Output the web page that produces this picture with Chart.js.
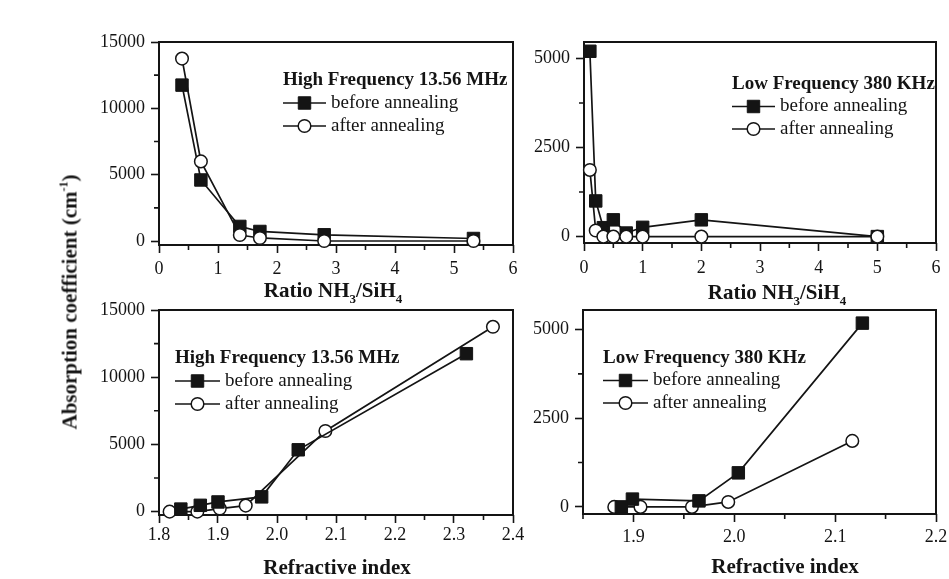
<!DOCTYPE html>
<html>
<head>
<meta charset="utf-8">
<script src="https://cdn.jsdelivr.net/npm/chart.js@4.4.1/dist/chart.umd.min.js"></script>
<style>
  body { margin: 0; background: #fff; }
  #page { position: relative; width: 949px; height: 579px; overflow: hidden;
          font-family: "Liberation Serif", "Times New Roman", serif; color: #141414; }
  .panel { position: absolute; }
  .xtitle { position: absolute; font-weight: bold; font-size: 21px; line-height: 21px;
            white-space: nowrap; transform: translateX(-50%); }
  .sub { font-size: 13px; position: relative; top: 6px; }
  #ytitle { position: absolute; left: 70px; top: 302px; font-weight: bold; font-size: 21px;
            white-space: nowrap; transform: translate(-50%, -50%) rotate(-90deg); }
  .sup { font-size: 12px; position: relative; top: -9px; }
</style>
</head>
<body>
<div id="page">
  <div class="panel" style="left:80px;top:20px;width:455px;height:295px"><canvas id="hfRatioChart"></canvas></div>
  <div class="panel" style="left:520px;top:20px;width:440px;height:295px"><canvas id="lfRatioChart"></canvas></div>
  <div class="panel" style="left:80px;top:290px;width:455px;height:289px"><canvas id="hfIndexChart"></canvas></div>
  <div class="panel" style="left:520px;top:290px;width:440px;height:289px"><canvas id="lfIndexChart"></canvas></div>

  <div id="ytitle">Absorption coefficient (cm<span class="sup">-1</span>)</div>
  <div class="xtitle" style="left:333px;top:280px">Ratio NH<span class="sub">3</span>/SiH<span class="sub">4</span></div>
  <div class="xtitle" style="left:777px;top:282px">Ratio NH<span class="sub">3</span>/SiH<span class="sub">4</span></div>
  <div class="xtitle" style="left:337px;top:557px">Refractive index</div>
  <div class="xtitle" style="left:785px;top:556px">Refractive index</div>
</div>

<script>
// High frequency 13.56 MHz (same samples in both left panels)
const hfRatio = [0.39, 0.71, 1.37, 1.71, 2.8, 5.33];
const hfBefore = [11750, 4600, 1100, 720, 470, 190];
const hfAfter = [13750, 6000, 450, 230, 0, 0];
const hfIndexBefore = [2.321, 2.036, 1.974, 1.900, 1.870, 1.837];
const hfIndexAfter = [2.366, 2.082, 1.947, 1.903, 1.865, 1.818];

// Low frequency 380 KHz vs ratio
const lfRatio = [0.1, 0.2, 0.33, 0.5, 0.72, 1.0, 2.0, 5.0];
const lfBefore = [5200, 1000, 250, 470, 100, 260, 470, 0];
const lfAfter = [1870, 170, 0, 0, 0, 0, 0, 0];

// Low frequency 380 KHz vs refractive index
const lfIndexBefore = [2.127, 2.004, 1.965, 1.899, 1.888];
const lfAbsBefore = [5180, 960, 170, 220, 0];
const lfIndexAfter = [2.117, 1.994, 1.958, 1.907, 1.881];
const lfAbsAfter = [1860, 140, 0, 0, 0];

// tick labels
const ratioTicks = [0, 1, 2, 3, 4, 5, 6];
const hfAbsTicks = [0, 5000, 10000, 15000];
const lfAbsTicks = [0, 2500, 5000];
const hfIndexTicks = [1.8, 1.9, 2.0, 2.1, 2.2, 2.3, 2.4];
const lfIndexTicks = [1.9, 2.0, 2.1, 2.2];

const FONT = '"Liberation Serif", "Times New Roman", serif';
const INK = '#141414';

function series(xs, ys) {
  return xs.map((x, i) => ({ x: x, y: ys[i] }));
}

function beforeSet(data, order) {
  return {
    label: 'before annealing', data: data, order: order, showLine: true, clip: false,
    borderColor: INK, borderWidth: 1.7,
    pointStyle: 'rect', pointRadius: 8.8, pointHoverRadius: 8.8,
    pointBackgroundColor: INK, pointBorderColor: INK, pointBorderWidth: 1,
  };
}

function afterSet(data, order) {
  return {
    label: 'after annealing', data: data, order: order, showLine: true, clip: false,
    borderColor: INK, borderWidth: 1.7,
    pointStyle: 'circle', pointRadius: 6.3, pointHoverRadius: 6.3,
    pointBackgroundColor: '#fff', pointBorderColor: INK, pointBorderWidth: 1.5,
  };
}

function axis(min, max, ticks, digits, size, pad) {
  return {
    type: 'linear', min: min, max: max,
    afterBuildTicks: (s) => { s.ticks = ticks.map((v) => ({ value: v })); },
    afterFit: (s) => { if (s.isHorizontal()) s.height = size; else s.width = size; },
    ticks: {
      autoSkip: false, maxRotation: 0, padding: pad, color: INK,
      font: { family: FONT, size: 18 },
      callback: (v) => Number(v).toFixed(digits),
    },
    grid: { drawOnChartArea: false, drawTicks: true, tickLength: 8, tickWidth: 1.6, tickColor: INK },
    border: { display: false },
  };
}

// box round the plot area + short minor ticks
const framePlugin = {
  id: 'frame',
  beforeDatasetsDraw(chart, args, o) {
    const { ctx, chartArea: a, scales } = chart;
    ctx.save();
    ctx.strokeStyle = INK;
    ctx.lineWidth = 2;
    ctx.strokeRect(a.left, a.top, a.right - a.left, a.bottom - a.top);
    ctx.lineWidth = 1.6;
    ctx.beginPath();
    const minor = (scale, step, draw) => {
      const majors = scale.ticks.map((t) => t.value);
      for (let k = Math.ceil(scale.min / step - 1e-6); k * step <= scale.max + 1e-9; k++) {
        const v = k * step;
        if (majors.some((m) => Math.abs(m - v) < step / 100)) continue;
        draw(scale.getPixelForValue(v));
      }
    };
    minor(scales.x, o.minorX, (px) => { ctx.moveTo(px, a.bottom); ctx.lineTo(px, a.bottom + 5); });
    minor(scales.y, o.minorY, (py) => { ctx.moveTo(a.left, py); ctx.lineTo(a.left - 5, py); });
    ctx.stroke();
    ctx.restore();
  },
};

// legend drawn inside the plot, built from the datasets
const boxLegend = {
  id: 'boxLegend',
  afterDraw(chart, args, o) {
    const { ctx, chartArea: a } = chart;
    const x0 = a.left + o.left;
    const y0 = a.top + o.top;
    ctx.save();
    ctx.fillStyle = INK;
    ctx.textBaseline = 'middle';
    ctx.textAlign = 'left';
    ctx.font = 'bold 19px ' + FONT;
    ctx.fillText(o.title, x0, y0);
    ctx.font = '19px ' + FONT;
    chart.data.datasets.forEach((ds, i) => {
      const y = y0 + o.gap * (i + 1);
      ctx.strokeStyle = ds.borderColor;
      ctx.lineWidth = ds.borderWidth;
      ctx.beginPath();
      ctx.moveTo(x0, y);
      ctx.lineTo(x0 + o.lineLength, y);
      ctx.stroke();
      ctx.fillStyle = ds.pointBackgroundColor;
      ctx.strokeStyle = ds.pointBorderColor;
      ctx.lineWidth = ds.pointBorderWidth;
      Chart.helpers.drawPoint(ctx, {
        pointStyle: ds.pointStyle, radius: ds.pointRadius, borderWidth: ds.pointBorderWidth, rotation: 0,
      }, x0 + o.lineLength / 2, y);
      ctx.fillStyle = INK;
      ctx.fillText(ds.label, x0 + o.lineLength + 5, y);
    });
    ctx.restore();
  },
};

function makeChart(id, cfg) {
  return new Chart(document.getElementById(id), {
    type: 'scatter',
    data: { datasets: cfg.datasets },
    options: {
      responsive: true,
      maintainAspectRatio: false,
      animation: false,
      events: [],
      layout: { padding: cfg.padding },
      scales: { x: cfg.x, y: cfg.y },
      plugins: {
        legend: { display: false },
        tooltip: { enabled: false },
        frame: cfg.frame,
        boxLegend: cfg.legend,
      },
    },
    plugins: [framePlugin, boxLegend],
  });
}

makeChart('hfRatioChart', {
  datasets: [beforeSet(series(hfRatio, hfBefore), 1), afterSet(series(hfRatio, hfAfter), 0)],
  padding: { top: 22, right: 22, bottom: 0, left: 0 },
  x: axis(0, 6, ratioTicks, 0, 70, 5),
  y: axis(-300, 15000, hfAbsTicks, 0, 79, 6),
  frame: { minorX: 0.5, minorY: 2500 },
  legend: { title: 'High Frequency 13.56 MHz', left: 124, top: 38, gap: 23, lineLength: 43 },
});

makeChart('lfRatioChart', {
  datasets: [beforeSet(series(lfRatio, lfBefore), 1), afterSet(series(lfRatio, lfAfter), 0)],
  padding: { top: 22, right: 24, bottom: 0, left: 0 },
  x: axis(0, 6, ratioTicks, 0, 72, 6),
  y: axis(-180, 5460, lfAbsTicks, 0, 64, 6),
  frame: { minorX: 0.5, minorY: 1250 },
  legend: { title: 'Low Frequency 380 KHz', left: 148, top: 42, gap: 22.5, lineLength: 43 },
});

makeChart('hfIndexChart', {
  datasets: [beforeSet(series(hfIndexBefore, hfBefore), 0), afterSet(series(hfIndexAfter, hfAfter), 1)],
  padding: { top: 20, right: 22, bottom: 0, left: 0 },
  x: axis(1.8, 2.4, hfIndexTicks, 1, 64, 1),
  y: axis(-250, 15000, hfAbsTicks, 0, 79, 6),
  frame: { minorX: 0.05, minorY: 2500 },
  legend: { title: 'High Frequency 13.56 MHz', left: 16, top: 48, gap: 23, lineLength: 45 },
});

makeChart('lfIndexChart', {
  datasets: [beforeSet(series(lfIndexBefore, lfAbsBefore), 0), afterSet(series(lfIndexAfter, lfAbsAfter), 1)],
  padding: { top: 20, right: 24, bottom: 0, left: 0 },
  x: axis(1.85, 2.2, lfIndexTicks, 1, 65, 4),
  y: axis(-200, 5550, lfAbsTicks, 0, 63, 6),
  frame: { minorX: 0.05, minorY: 1250 },
  legend: { title: 'Low Frequency 380 KHz', left: 20, top: 48, gap: 22.5, lineLength: 45 },
});
</script>
</body>
</html>
